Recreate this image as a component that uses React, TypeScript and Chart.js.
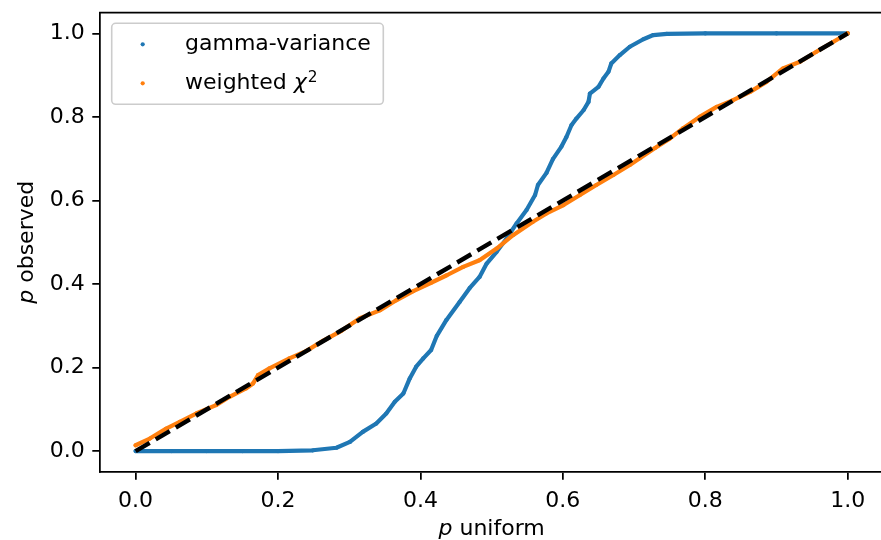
import React, { useEffect, useRef } from "react";
import { Chart, registerables } from "chart.js";

Chart.register(...registerables);

// ---- data ----
const gammaX = [0, 0.05, 0.1, 0.15, 0.2, 0.249, 0.282, 0.301, 0.319, 0.338, 0.352, 0.364, 0.376, 0.385, 0.394, 0.404, 0.415, 0.423, 0.4365, 0.455, 0.469, 0.483, 0.493, 0.507, 0.521, 0.535, 0.549, 0.561, 0.565, 0.577, 0.586, 0.598, 0.605, 0.612, 0.619, 0.629, 0.636, 0.638, 0.65, 0.657, 0.664, 0.668, 0.68, 0.694, 0.713, 0.727, 0.746, 0.8, 0.9, 1.0];
const gammaY = [0, 0, 0, 0, 0, 0.002, 0.008, 0.022, 0.046, 0.066, 0.09, 0.118, 0.138, 0.174, 0.202, 0.222, 0.242, 0.276, 0.314, 0.357, 0.39, 0.417, 0.449, 0.477, 0.509, 0.545, 0.577, 0.613, 0.637, 0.666, 0.699, 0.729, 0.752, 0.78, 0.796, 0.816, 0.836, 0.856, 0.872, 0.892, 0.908, 0.928, 0.948, 0.968, 0.986, 0.996, 0.999, 1.0, 1.0, 1.0];

const chiX = [0, 0.02, 0.043, 0.062, 0.085, 0.113, 0.132, 0.155, 0.165, 0.172, 0.188, 0.216, 0.24, 0.263, 0.289, 0.315, 0.343, 0.366, 0.39, 0.415, 0.437, 0.46, 0.483, 0.507, 0.53, 0.558, 0.577, 0.601, 0.624, 0.647, 0.671, 0.694, 0.708, 0.73, 0.75, 0.769, 0.792, 0.816, 0.839, 0.863, 0.886, 0.909, 0.933, 0.956, 0.98, 1.0];
const chiY = [0.014, 0.03, 0.054, 0.07, 0.09, 0.11, 0.13, 0.15, 0.162, 0.182, 0.198, 0.222, 0.24, 0.264, 0.288, 0.318, 0.337, 0.361, 0.383, 0.403, 0.421, 0.441, 0.457, 0.485, 0.517, 0.549, 0.569, 0.589, 0.613, 0.637, 0.661, 0.685, 0.701, 0.726, 0.748, 0.773, 0.8, 0.824, 0.84, 0.86, 0.884, 0.916, 0.932, 0.956, 0.98, 1.0];

const refX = [0, 1];
const refY = [0, 1];

const xTicks = [0, 0.2, 0.4, 0.6, 0.8, 1.0];
const yTicks = [0, 0.2, 0.4, 0.6, 0.8, 1.0];

const seriesNames = ["gamma-variance", "weighted "];
const chiSymbol = "χ";
const chiSup = "2";
const xLabelParts = ["p", " uniform"];
const yLabelParts = ["p", " observed"];

// ---- styles ----
const FAMILY = '"DejaVu Sans"';
const FS = 22;
const BLUE = "#1f77b4";
const ORANGE = "#ff7f0e";
const LW = 1.75;
const CANVAS_W = 920;
const PLOT_RIGHT = 883.3;

const decorPlugin = {
  id: "decor",
  afterDraw(chart: any) {
    const { ctx, chartArea: a } = chart;
    ctx.save();
    // top spine (right spine lies outside the visible window)
    ctx.strokeStyle = "#000";
    ctx.lineWidth = LW;
    ctx.beginPath();
    ctx.moveTo(a.left - LW / 2, a.top);
    ctx.lineTo(a.right, a.top);
    ctx.stroke();

    ctx.fillStyle = "#000";
    ctx.textBaseline = "alphabetic";
    const it = `italic ${FS}px ${FAMILY}`;
    const nm = `${FS}px ${FAMILY}`;
    // x label
    ctx.font = it;
    const wp = ctx.measureText(xLabelParts[0]).width;
    ctx.font = nm;
    const wr = ctx.measureText(xLabelParts[1]).width;
    const cx = (a.left + a.right) / 2;
    const x0 = cx - (wp + wr) / 2;
    ctx.font = it;
    ctx.fillText(xLabelParts[0], x0, 535.3);
    ctx.font = nm;
    ctx.fillText(xLabelParts[1], x0 + wp, 535.3);

    // y label
    ctx.save();
    ctx.translate(33.3, (a.top + a.bottom) / 2);
    ctx.rotate(-Math.PI / 2);
    ctx.font = it;
    const wp2 = ctx.measureText(yLabelParts[0]).width;
    ctx.font = nm;
    const wr2 = ctx.measureText(yLabelParts[1]).width;
    const y0 = -(wp2 + wr2) / 2;
    ctx.font = it;
    ctx.fillText(yLabelParts[0], y0, 0);
    ctx.font = nm;
    ctx.fillText(yLabelParts[1], y0 + wp2, 0);
    ctx.restore();

    // legend
    const bx = 111.7, by = 23.3, bw = 271.6, bh = 81, r = 4;
    ctx.beginPath();
    ctx.moveTo(bx + r, by);
    ctx.lineTo(bx + bw - r, by);
    ctx.arcTo(bx + bw, by, bx + bw, by + r, r);
    ctx.lineTo(bx + bw, by + bh - r);
    ctx.arcTo(bx + bw, by + bh, bx + bw - r, by + bh, r);
    ctx.lineTo(bx + r, by + bh);
    ctx.arcTo(bx, by + bh, bx, by + bh - r, r);
    ctx.lineTo(bx, by + r);
    ctx.arcTo(bx, by, bx + r, by, r);
    ctx.closePath();
    ctx.fillStyle = "rgba(255,255,255,0.8)";
    ctx.fill();
    ctx.strokeStyle = "#cccccc";
    ctx.lineWidth = 1.6;
    ctx.stroke();

    ctx.fillStyle = BLUE;
    ctx.beginPath();
    ctx.arc(142.7, 44.3, 2.1, 0, Math.PI * 2);
    ctx.fill();
    ctx.fillStyle = ORANGE;
    ctx.beginPath();
    ctx.arc(142.7, 83.3, 2.1, 0, Math.PI * 2);
    ctx.fill();

    ctx.fillStyle = "#000";
    ctx.font = nm;
    ctx.fillText(seriesNames[0], 185, 50.3);
    ctx.fillText(seriesNames[1], 185, 88.8);
    const ww = ctx.measureText(seriesNames[1]).width;
    ctx.font = it;
    ctx.fillText(chiSymbol, 185 + ww, 88.8);
    const wc = ctx.measureText(chiSymbol).width;
    ctx.font = `${FS * 0.7}px ${FAMILY}`;
    ctx.fillText(chiSup, 185 + ww + wc + 1, 81.5);

    ctx.restore();
  },
};

const zeroPad = (s: any) => {
  s.paddingTop = 0;
  s.paddingBottom = 0;
  s.paddingLeft = 0;
  s.paddingRight = 0;
};

export default function App() {
  const ref = useRef<HTMLCanvasElement | null>(null);
  useEffect(() => {
    if (!ref.current) return;
    const tickFont = { family: FAMILY, size: FS };
    const chart = new Chart(ref.current, {
      type: "scatter",
      data: {
        datasets: [
          {
            label: "reference",
            data: refX.map((x, i) => ({ x, y: refY[i] })),
            showLine: true,
            borderColor: "#000",
            borderWidth: 4.4,
            borderDash: [16.3, 7],
            pointRadius: 0,
            order: 0,
          } as any,
          {
            label: seriesNames[1] + chiSymbol + "²",
            data: chiX.map((x, i) => ({ x, y: chiY[i] })),
            showLine: true,
            borderColor: ORANGE,
            backgroundColor: ORANGE,
            borderWidth: 4.2,
            borderJoinStyle: "round",
            borderCapStyle: "round",
            pointRadius: 2.1,
            pointBorderWidth: 0,
            order: 1,
          },
          {
            label: seriesNames[0],
            data: gammaX.map((x, i) => ({ x, y: gammaY[i] })),
            showLine: true,
            borderColor: BLUE,
            backgroundColor: BLUE,
            borderWidth: 4.2,
            borderJoinStyle: "round",
            borderCapStyle: "round",
            pointRadius: 2.1,
            pointBorderWidth: 0,
            order: 2,
          },
        ],
      },
      options: {
        animation: false,
        responsive: true,
        maintainAspectRatio: false,
        events: [],
        layout: { padding: { left: 0, top: 12.5, right: CANVAS_W - PLOT_RIGHT, bottom: 0 } },
        plugins: {
          legend: { display: false },
          tooltip: { enabled: false },
          title: { display: false },
        },
        scales: {
          x: {
            type: "linear",
            min: -0.05,
            max: 1.05,
            afterBuildTicks: (s: any) => {
              s.ticks = xTicks.map((v) => ({ value: v }));
            },
            afterFit: (s: any) => {
              s.height = 68;
              zeroPad(s);
            },
            ticks: {
              font: tickFont,
              color: "#000",
              padding: 8,
              maxRotation: 0,
              autoSkip: false,
              callback: (v: any) => Number(v).toFixed(1),
            },
            grid: {
              drawOnChartArea: false,
              drawTicks: true,
              tickLength: 7.7,
              color: "#000",
              lineWidth: LW,
            },
            border: { display: true, color: "#000", width: LW },
          },
          y: {
            type: "linear",
            min: -0.05,
            max: 1.05,
            afterBuildTicks: (s: any) => {
              s.ticks = yTicks.map((v) => ({ value: v }));
            },
            afterFit: (s: any) => {
              s.width = 100;
              zeroPad(s);
            },
            ticks: {
              font: tickFont,
              color: "#000",
              padding: 7.5,
              autoSkip: false,
              callback: (v: any) => Number(v).toFixed(1),
            },
            grid: {
              drawOnChartArea: false,
              drawTicks: true,
              tickLength: 7.7,
              color: "#000",
              lineWidth: LW,
            },
            border: { display: true, color: "#000", width: LW },
          },
        },
      },
      plugins: [decorPlugin],
    });
    return () => chart.destroy();
  }, []);

  return (
    <div
      style={{
        position: "fixed",
        left: 0,
        top: 0,
        width: 881,
        height: 540,
        overflow: "hidden",
        background: "#fff",
      }}
    >
      <div style={{ position: "relative", width: CANVAS_W, height: 540 }}>
        <canvas ref={ref} />
      </div>
    </div>
  );
}
